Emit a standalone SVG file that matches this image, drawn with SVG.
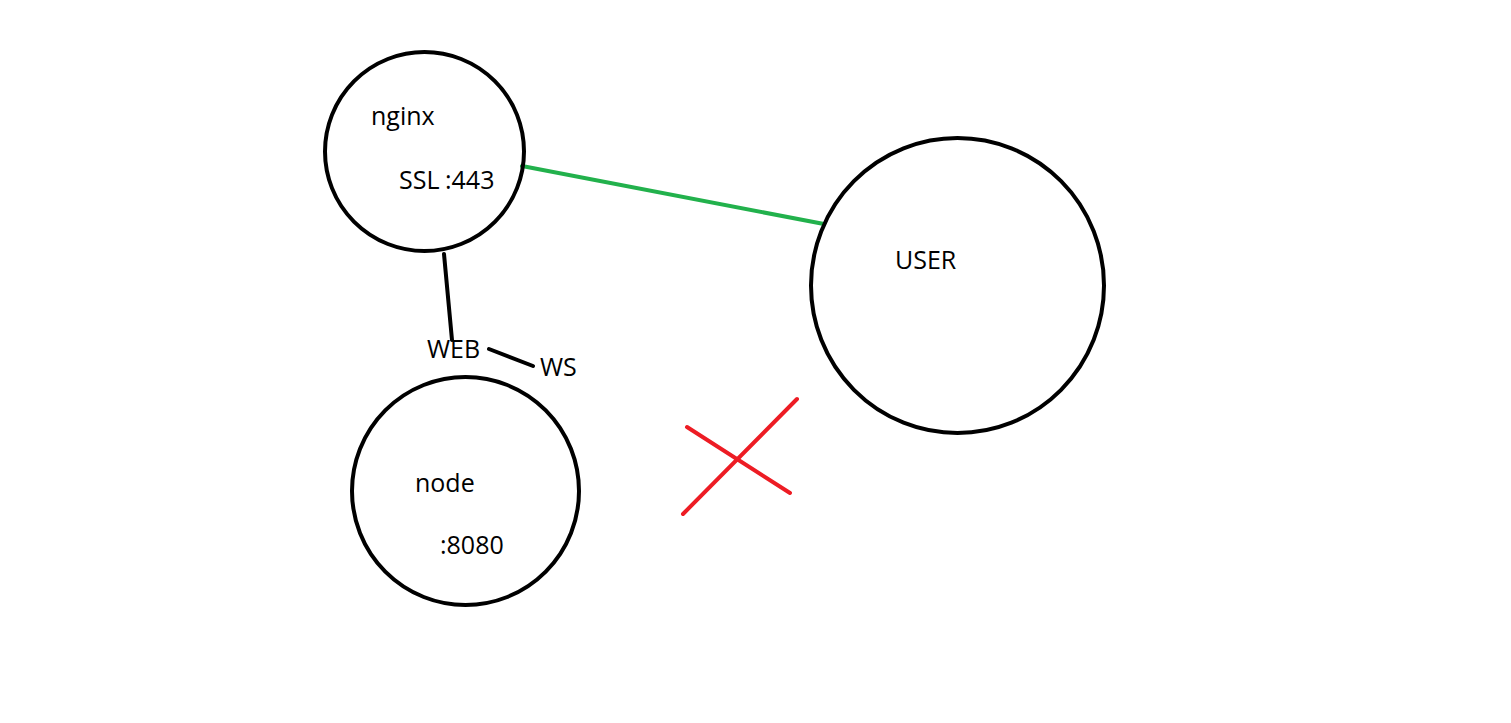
<svg xmlns="http://www.w3.org/2000/svg" width="1511" height="723" viewBox="0 0 1511 723">
<style>
.node{fill:none;stroke:#000;stroke-width:4}
.lbl{font-family:"Open Sans","Noto Sans",sans-serif;font-size:25px;fill:#000}
.edge{stroke-width:4;stroke-linecap:round;fill:none}
</style>
<rect width="1511" height="723" fill="#fff"/>
<g id="connectors">
<line class="edge" x1="522" y1="166" x2="824" y2="224" stroke="#22b14c"/>
<line class="edge" x1="444" y1="254" x2="452" y2="340" stroke="#000"/>
<line class="edge" x1="489" y1="349" x2="533" y2="366" stroke="#000"/>
</g>
<g id="nginx">
<ellipse class="node" cx="424.5" cy="151.5" rx="99.5" ry="99.5"/>
<text class="lbl" x="371" y="125">nginx</text>
<text class="lbl" x="399" y="189">SSL <tspan x="445">:443</tspan></text>
</g>
<g id="user">
<ellipse class="node" cx="957.5" cy="285.5" rx="146.5" ry="147.5"/>
<text class="lbl" x="895" y="269">USER</text>
</g>
<g id="node">
<ellipse class="node" cx="465.5" cy="491" rx="113.5" ry="114"/>
<text class="lbl" x="415" y="492">node</text>
<text class="lbl" x="440" y="554">:8080</text>
</g>
<g id="web-ws">
<text class="lbl" x="427" y="358">WEB</text>
<text class="lbl" x="540" y="376">WS</text>
</g>
<g id="cross">
<line class="edge" x1="683" y1="514" x2="797" y2="399" stroke="#ed1c24"/>
<line class="edge" x1="687" y1="427" x2="790" y2="493" stroke="#ed1c24"/>
</g>
</svg>
